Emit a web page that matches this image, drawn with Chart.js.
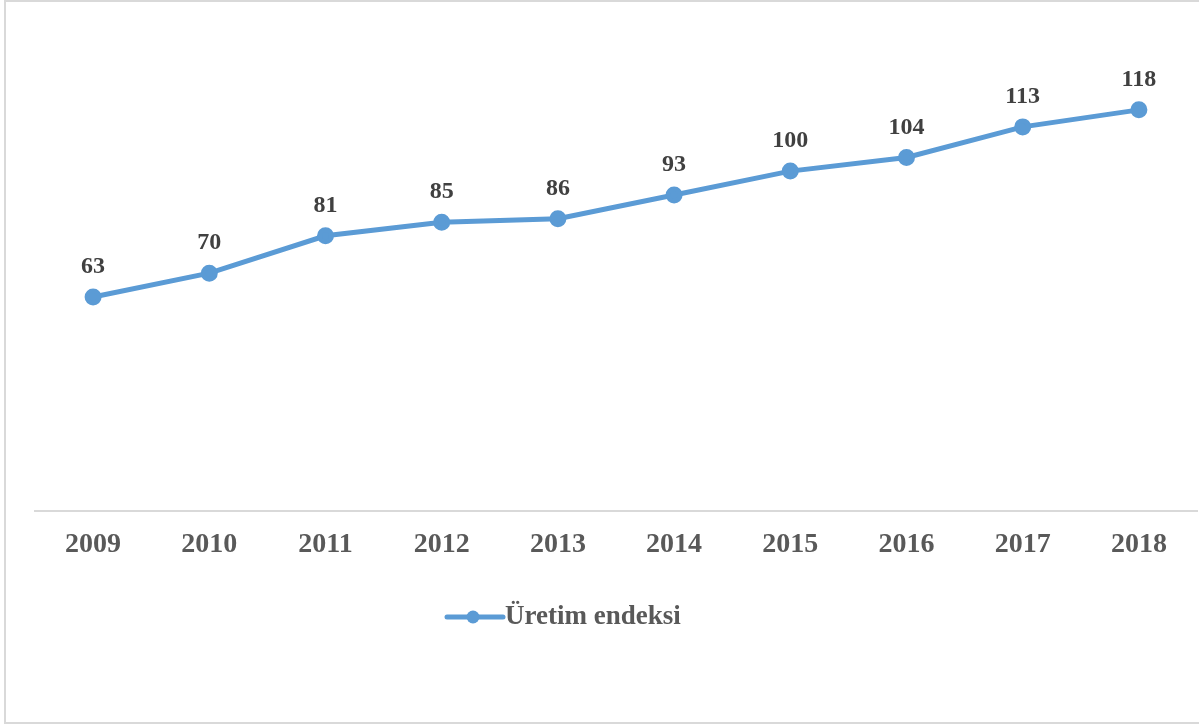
<!DOCTYPE html>
<html>
<head>
<meta charset="utf-8">
<script src="https://cdn.jsdelivr.net/npm/chart.js@4"></script>
<style>
  html, body { margin: 0; padding: 0; background: #fff; overflow: hidden; }
  #frame {
    position: absolute; left: 4px; top: 0; width: 1300px; height: 720px;
    border: 2px solid #d9d9d9;
  }
  #wrap { position: absolute; left: 0; top: 0; width: 1208px; height: 724px; }
</style>
</head>
<body>
<div id="frame"></div>
<div id="wrap"><canvas id="chartCanvas"></canvas></div>
<script>
"use strict"

//Years on the x axis
const years = ['2009', '2010', '2011', '2012', '2013', '2014', '2015', '2016', '2017', '2018'];

//Production index values
const uretimEndeksi = [63, 70, 81, 85, 86, 93, 100, 104, 113, 118];

const seriesName = 'Üretim endeksi';
const lineColor = '#5b9bd5';
const serif = "'Liberation Serif', 'Times New Roman', serif";


//Draws the number above each point
const valueLabels = {
    id: 'valueLabels',
    afterDatasetsDraw(chart) {
        const ctx = chart.ctx;
        const meta = chart.getDatasetMeta(0);
        ctx.save();
        ctx.font = 'bold 24px ' + serif;
        ctx.fillStyle = '#404040';
        ctx.textAlign = 'center';
        ctx.textBaseline = 'middle';
        meta.data.forEach(function (pt, i) {
            ctx.fillText(String(chart.data.datasets[0].data[i]), pt.x, pt.y - 30);
        });
        ctx.restore();
    }
};


//Excel style legend under the axis
const bottomLegend = {
    id: 'bottomLegend',
    afterDraw(chart) {
        const ctx = chart.ctx;
        const ds = chart.data.datasets[0];
        const x0 = 447, y0 = 617;
        ctx.save();
        ctx.strokeStyle = ds.borderColor;
        ctx.lineWidth = 5;
        ctx.lineCap = 'round';
        ctx.beginPath();
        ctx.moveTo(x0, y0);
        ctx.lineTo(x0 + 56, y0);
        ctx.stroke();
        ctx.fillStyle = ds.pointBackgroundColor;
        ctx.beginPath();
        ctx.arc(x0 + 26, y0, 6.5, 0, Math.PI * 2);
        ctx.fill();
        ctx.font = 'bold 27px ' + serif;
        ctx.fillStyle = '#595959';
        ctx.textAlign = 'left';
        ctx.textBaseline = 'middle';
        ctx.fillText(ds.label, x0 + 58, y0);
        ctx.restore();
    }
};


const graphData = {
    labels: years,
    datasets: [{
        label: seriesName,
        data: uretimEndeksi,
        borderColor: lineColor,
        backgroundColor: lineColor,
        pointBackgroundColor: lineColor,
        pointBorderColor: lineColor,
        borderWidth: 5,
        pointRadius: 6,
        tension: 0
    }]
};

const config = {
    type: 'line',
    data: graphData,
    options: {
        responsive: true,
        maintainAspectRatio: false,
        animation: false,
        layout: {
            padding: { top: 35, left: 35, right: 2, bottom: 153 }
        },
        plugins: {
            legend: { display: false },
            tooltip: { enabled: false }
        },
        scales: {
            x: {
                offset: true,
                grid: { display: false },
                border: { display: true, color: '#d9d9d9', width: 2 },
                ticks: {
                    color: '#595959',
                    font: { family: serif, size: 28, weight: 'bold' },
                    padding: 9,
                    maxRotation: 0,
                    autoSkip: false
                }
            },
            y: {
                display: false,
                min: 0,
                max: 140
            }
        }
    },
    plugins: [valueLabels, bottomLegend]
};

window.myChart = new Chart(
    document.getElementById('chartCanvas'),
    config
);
</script>
</body>
</html>
